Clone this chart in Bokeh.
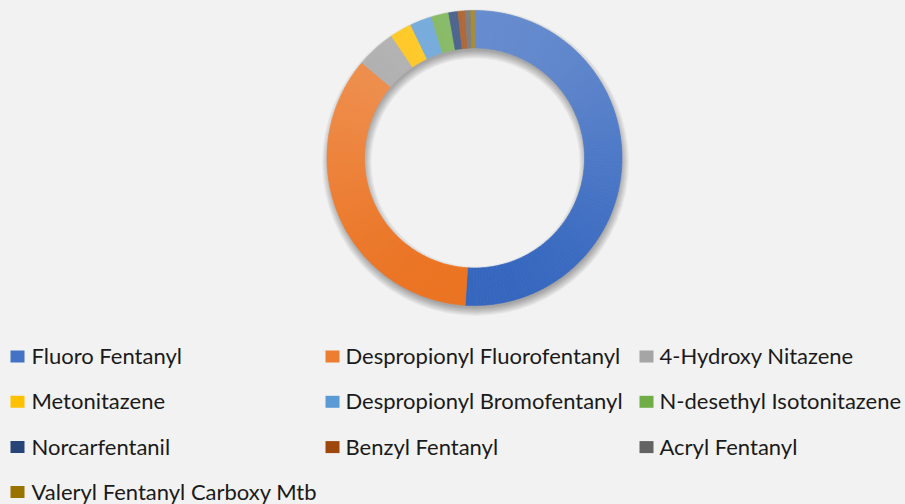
import math
from bokeh.plotting import figure
from bokeh.models import Range1d, ColumnDataSource
from bokeh.core.properties import value
from bokeh.embed import file_html
from bokeh.resources import INLINE

# ---- data ----
categories = ["Fluoro Fentanyl", "Despropionyl Fluorofentanyl", "4-Hydroxy Nitazene",
              "Metonitazene", "Despropionyl Bromofentanyl", "N-desethyl Isotonitazene",
              "Norcarfentanil", "Benzyl Fentanyl", "Acryl Fentanyl",
              "Valeryl Fentanyl Carboxy Mtb"]
shares = [50.9, 35.1, 4.3, 2.4, 2.4, 1.9, 1.0, 0.8, 0.6, 0.4]
colors = ["#4472C4", "#ED7D31", "#A5A5A5", "#FFC000", "#5B9BD5", "#70AD47",
          "#264478", "#9E480E", "#636363", "#997300"]

W, H = 905, 504
CX, CY = 474.0, 157.5          # page pixels
R_OUT, R_IN = 147.5, 110.0


def Y(py):
    return H - py


def hex2rgb(h):
    h = h.lstrip("#")
    return tuple(int(h[i:i + 2], 16) for i in (0, 2, 4))


def tint(c, t):
    # t>0 towards white, t<0 away from white (deeper)
    return tuple(min(255.0, max(0.0, a + (255 - a) * t)) for a in c)


def tohex(c):
    return "#%02x%02x%02x" % tuple(int(round(v)) for v in c)


p = figure(width=W, height=H, x_range=Range1d(0, W), y_range=Range1d(0, H),
           output_backend="svg", toolbar_location=None, min_border=0,
           x_axis_location=None, y_axis_location=None,
           background_fill_color="#F2F2F2", border_fill_color="#F2F2F2",
           outline_line_color=None)
p.grid.visible = False

# ---- soft drop shadow ----
for k in range(9):
    p.annulus(x=CX + 1.0, y=Y(CY + 4.5), inner_radius=R_IN + 2 - k, outer_radius=R_OUT - 2 + k,
              fill_color="black", fill_alpha=0.04, line_color=None)

# ---- donut with vertical gradient (sub-wedges) ----
total = sum(shares)
xs, ys, sa, ea, fc = [], [], [], [], []
cum = 0.0
rm = (R_IN + R_OUT) / 2
for s, c in zip(shares, colors):
    f0, f1 = cum / total, (cum + s) / total
    cum += s
    base = hex2rgb(c)
    n = max(1, int(math.ceil((f1 - f0) * 360 / 1.5)))
    for j in range(n):
        g0 = f0 + (f1 - f0) * j / n
        g1 = f0 + (f1 - f0) * (j + 1) / n
        gm = (g0 + g1) / 2
        py = CY - rm * math.cos(2 * math.pi * gm)
        t = (py - (CY - R_OUT)) / (2 * R_OUT)
        col = tohex(tint(base, 0.2 - 0.3 * t))
        xs.append(CX)
        ys.append(Y(CY))
        sa.append(math.pi / 2 - 2 * math.pi * g1)
        ea.append(math.pi / 2 - 2 * math.pi * g0)
        fc.append(col)

src = ColumnDataSource(dict(x=xs, y=ys, sa=sa, ea=ea, fc=fc))
p.annular_wedge(x="x", y="y", inner_radius=R_IN, outer_radius=R_OUT,
                start_angle="sa", end_angle="ea", fill_color="fc",
                line_color="fc", line_width=0.6, source=src)

# ---- legend ----
col_marker_x = [10, 325, 639]
col_text_x = [31, 345, 659]
row_base = [362, 407.3, 452.6, 497.5]
mx, my, tx, ty = [], [], [], []
for i, name in enumerate(categories):
    r, c = divmod(i, 3)
    mx.append(col_marker_x[c] + 7)
    my.append(Y(row_base[r] - 6))
    tx.append(col_text_x[c])
    ty.append(Y(row_base[r] - 7))

p.rect(x=mx, y=my, width=14, height=12, fill_color=colors, line_color=None)
p.text(x=tx, y=ty, text=categories, text_font=value("Lato"), text_font_size="22px",
       text_baseline="alphabetic", text_align="left", text_color="#1A1A1A")

html = file_html(p, INLINE)
html = html.replace("<head>", "<head><style>html,body{margin:0;padding:0;background:#F2F2F2;overflow:hidden}</style>", 1)
open("out.html", "w").write(html)
